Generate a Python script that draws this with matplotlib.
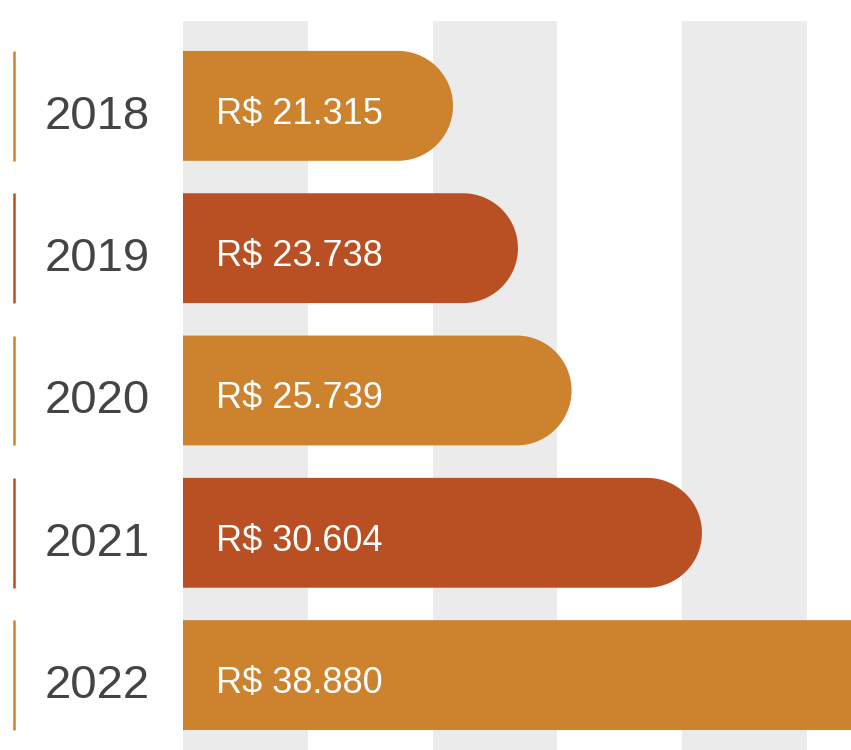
import numpy as np
import matplotlib
matplotlib.use("Agg")
import matplotlib.pyplot as plt
from matplotlib.patches import Polygon, Rectangle
import matplotlib.transforms as mtransforms

# dados
anos = ["2018", "2019", "2020", "2021", "2022"]
valores = [21315, 23738, 25739, 30604, 38880]
rotulos = ["R$ 21.315", "R$ 23.738", "R$ 25.739", "R$ 30.604", "R$ 38.880"]
cores = ["#CD822E", "#B95024", "#CD822E", "#B95024", "#CD822E"]

W, H = 851, 750
fig = plt.figure(figsize=(W / 100, H / 100), dpi=100)
ax = fig.add_axes([0, 0, 1, 1])

# escala: base da barra em x=183px, 0.0268 px por unidade
escala = 0.0268
base = 11240
x0 = base - 183 / escala
x1 = x0 + W / escala
ax.set_xlim(x0, x1)
passo = 142.5
ax.set_ylim(4 + (H - 675) / passo, -106 / passo)
ax.axis("off")

# faixas cinza de fundo
topo = (H - 21) / H
for k in range(3):
    ax.add_patch(Rectangle(((183 + k * 249.5) / W, 0), 124.8 / W, topo,
                           transform=ax.transAxes, color="#EBEBEB", zorder=0, lw=0))

altura = 110 / passo
raio = 55 / escala
trans = mtransforms.blended_transform_factory(ax.transAxes, ax.transData)
fonte = ["Liberation Sans", "DejaVu Sans"]
t = np.linspace(np.pi / 2, -np.pi / 2, 60)

def barra_arredondada(i, v, cor):
    # retangulo + meia elipse na ponta, num so poligono
    cx = v - raio
    arco = np.column_stack([cx + raio * np.cos(t), i - altura / 2 * np.sin(t)])
    pts = np.vstack([[base, i - altura / 2], arco, [base, i + altura / 2]])
    ax.add_patch(Polygon(pts, closed=True, color=cor, lw=0, zorder=2))

for i, (ano, v, rot, cor) in enumerate(zip(anos, valores, rotulos, cores)):
    barra_arredondada(i, v, cor)
    ax.plot([13.5 / W, 13.5 / W], [i - altura / 2, i + altura / 2], color=cor,
            lw=1.8, transform=trans, solid_capstyle="butt")
    ax.text(45 / W, i + 23 / passo, ano, transform=trans, fontsize=34,
            family=fonte, color="#444444", va="baseline", ha="left")
    ax.text(216 / W, i + 18 / passo, rot, transform=trans, fontsize=26,
            family=fonte, color="white", va="baseline", ha="left", zorder=3)

fig.savefig("out.png", dpi=100)
